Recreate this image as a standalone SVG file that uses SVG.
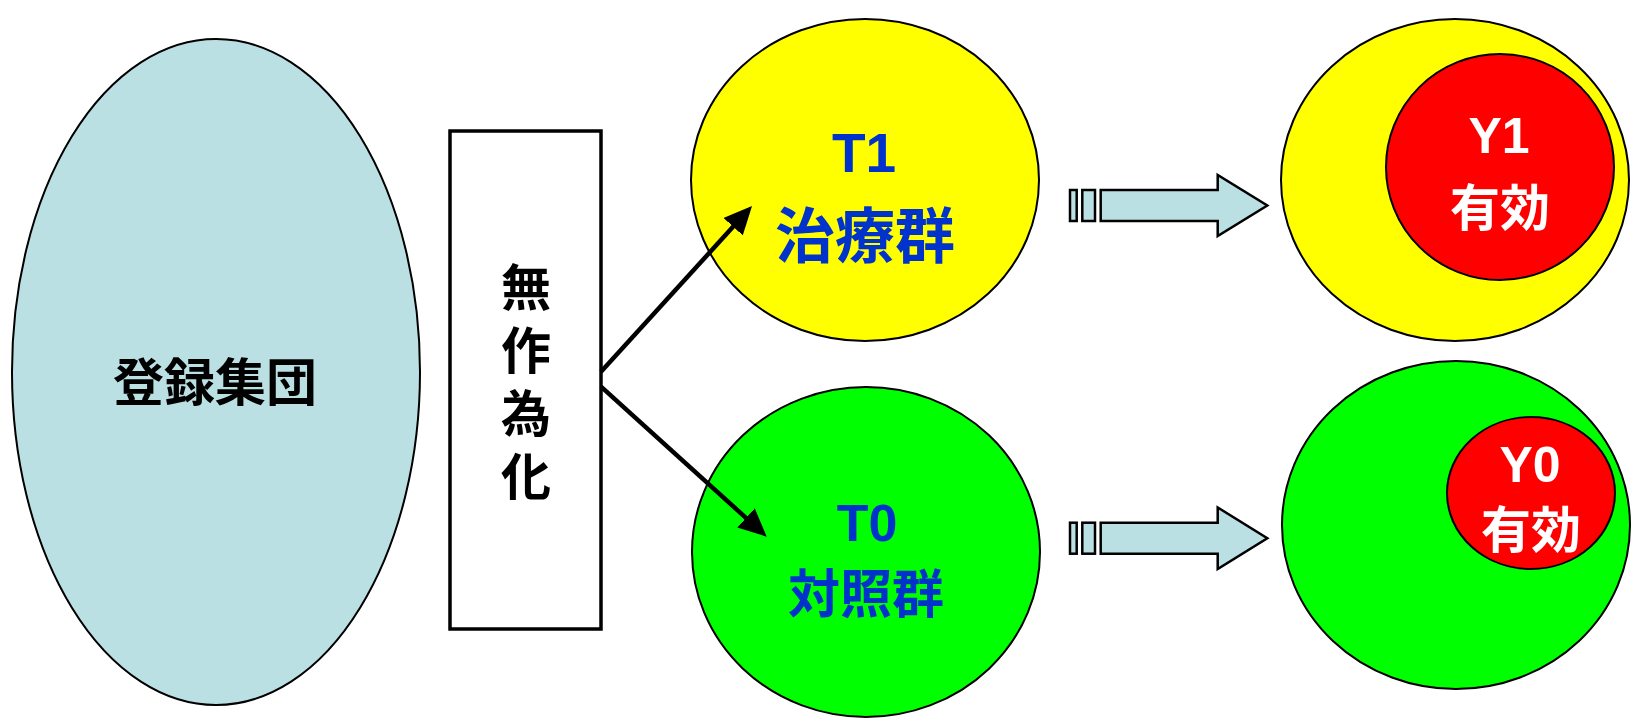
<svg xmlns="http://www.w3.org/2000/svg" width="1635" height="720" viewBox="0 0 1635 720">
<style>
.sh{stroke:#000;stroke-width:2}
.jp{font-family:"Noto Sans CJK JP","Noto Sans CJK SC",sans-serif;font-weight:bold;text-anchor:middle}
.la{font-family:"Liberation Sans",Arial,sans-serif;font-weight:bold;text-anchor:middle}
.blk{fill:#BBE0E3;stroke:#000;stroke-width:2.5;stroke-linejoin:miter}
.conn{stroke:#000;stroke-width:4.5;fill:none}
</style>
<defs>
<marker id="ah" markerUnits="userSpaceOnUse" markerWidth="28" markerHeight="26" viewBox="0 0 28 26" refX="13" refY="13" orient="auto">
<path d="M0,0 L28,13 L0,26 z" fill="#000"/>
</marker>
</defs>
<rect width="1635" height="720" fill="#fff"/>
<g id="pool">
<ellipse cx="216" cy="372" rx="204" ry="333" fill="#BBE0E3" class="sh"/>
<text x="215" y="401" class="jp" font-size="51" fill="#000">登録集団</text>
</g>
<g id="random">
<rect x="450" y="131" width="151" height="498" fill="#fff" stroke="#000" stroke-width="3.5"/>
<text x="526" y="388" class="jp" font-size="50" fill="#000" writing-mode="vertical-rl" letter-spacing="13">無作為化</text>
</g>
<g id="t1">
<ellipse cx="865" cy="180" rx="174" ry="161" fill="#FFFF00" class="sh"/>
<text fill="#0033CC" text-anchor="middle"><tspan x="864" y="172" class="la" font-size="55">T1</tspan><tspan x="865" y="258" class="jp" font-size="60">治療群</tspan></text>
</g>
<g id="t0">
<ellipse cx="866" cy="552" rx="174" ry="165" fill="#00FF00" class="sh"/>
<text fill="#0033CC" text-anchor="middle"><tspan x="867" y="541" class="la" font-size="52">T0</tspan><tspan x="866" y="613" class="jp" font-size="52">対照群</tspan></text>
</g>
<g id="y1">
<ellipse cx="1455" cy="180" rx="174" ry="161" fill="#FFFF00" class="sh"/>
<ellipse cx="1500" cy="167" rx="114" ry="113" fill="#FF0000" class="sh"/>
<text fill="#fff" text-anchor="middle"><tspan x="1499" y="153" class="la" font-size="50">Y1</tspan><tspan x="1500" y="226" class="jp" font-size="50">有効</tspan></text>
</g>
<g id="y0">
<ellipse cx="1456" cy="525" rx="174" ry="164" fill="#00FF00" class="sh"/>
<ellipse cx="1531" cy="493" rx="84" ry="76" fill="#FF0000" class="sh"/>
<text fill="#fff" text-anchor="middle"><tspan x="1530" y="482" class="la" font-size="50">Y0</tspan><tspan x="1531" y="548" class="jp" font-size="50">有効</tspan></text>
</g>
<g id="connectors">
<line x1="601" y1="371.7" x2="741.9" y2="217.1" class="conn" marker-end="url(#ah)"/>
<line x1="601" y1="386.7" x2="755.6" y2="526.6" class="conn" marker-end="url(#ah)"/>
<g id="blockarrow1">
<rect x="1070" y="190" width="6.7" height="31" class="blk"/>
<rect x="1082.3" y="190" width="12.7" height="31" class="blk"/>
<path d="M1100.7,190 L1217.7,190 L1217.7,175 L1267.3,205.5 L1217.7,236 L1217.7,221 L1100.7,221 z" class="blk"/>
</g>
<g id="blockarrow2">
<rect x="1070" y="522.7" width="6.7" height="31" class="blk"/>
<rect x="1082.3" y="522.7" width="12.7" height="31" class="blk"/>
<path d="M1100.7,522.7 L1217.7,522.7 L1217.7,507.5 L1267.3,538.2 L1217.7,569 L1217.7,553.7 L1100.7,553.7 z" class="blk"/>
</g>
</g>
</svg>
